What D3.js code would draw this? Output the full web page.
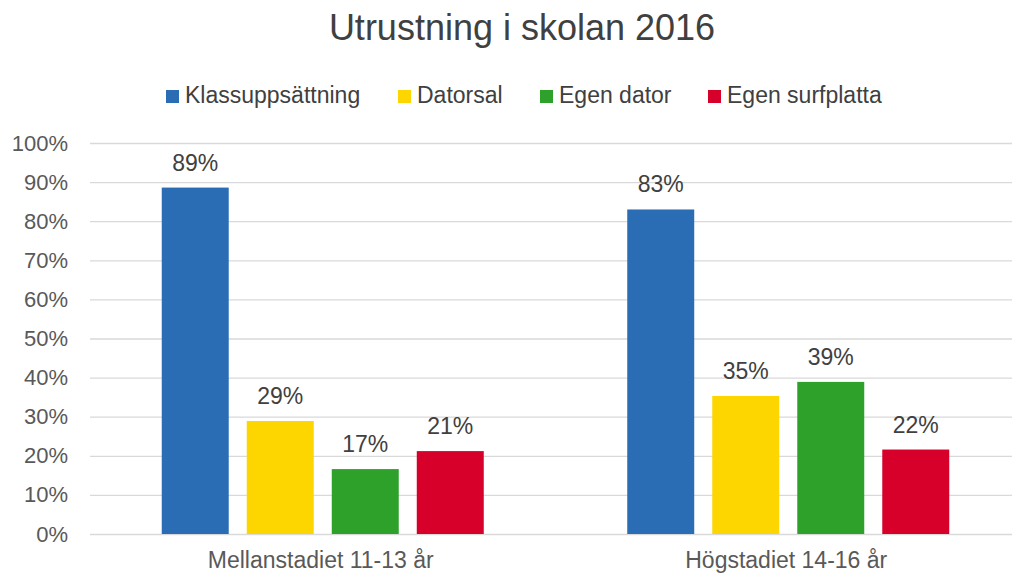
<!DOCTYPE html>
<html>
<head>
<meta charset="utf-8">
<script src="https://cdn.jsdelivr.net/npm/d3@7"></script>
<style>
  html, body { margin: 0; padding: 0; background: #fff; }
  svg text { font-family: "Liberation Sans", Arial, sans-serif; }
</style>
</head>
<body>
<div id="chart"></div>
<script>
// chart data
var categories = ['Mellanstadiet 11-13 år', 'Högstadiet 14-16 år'];
var seriesNames = ['Klassuppsättning', 'Datorsal', 'Egen dator', 'Egen surfplatta'];
var seriesColors = ['#2a6db5', '#fdd600', '#2ea12b', '#d6002a'];
var klassuppsattning = [0.886, 0.83];
var datorsal = [0.289, 0.353];
var egenDator = [0.166, 0.389];
var egenSurfplatta = [0.212, 0.216];
var yTicks = [0, 0.1, 0.2, 0.3, 0.4, 0.5, 0.6, 0.7, 0.8, 0.9, 1.0];

var allSeries = [klassuppsattning, datorsal, egenDator, egenSurfplatta];

var W = 1012, H = 573;
// plot area (note: "top" is reserved on window, so use other names)
var plotL = 90, plotR = 1021, plotT = 143, plotB = 534;

var svg = d3.select('#chart').append('svg')
    .attr('width', W)
    .attr('height', H);

// scales
var x0 = d3.scaleBand().domain(categories).range([plotL, plotR]).padding(0);
var x1 = d3.scaleBand().domain(seriesNames)
    .range([0, x0.bandwidth()])
    .paddingInner(0.212)
    .paddingOuter(0.844);
var y = d3.scaleLinear().domain([0, 1]).range([plotB, plotT]);

// title
svg.append('text')
    .attr('x', 522)
    .attr('y', 40)
    .attr('text-anchor', 'middle')
    .attr('font-size', 36)
    .attr('fill', '#404040')
    .text('Utrustning i skolan 2016');

// legend
var legendX = [166, 398, 540, 708];
var legend = svg.append('g').selectAll('g')
    .data(seriesNames)
    .enter()
    .append('g')
    .attr('transform', function(d, i) { return 'translate(' + legendX[i] + ',0)'; });
legend.append('rect')
    .attr('x', 0).attr('y', 90)
    .attr('width', 13).attr('height', 13)
    .attr('fill', function(d, i) { return seriesColors[i]; });
legend.append('text')
    .attr('x', 19).attr('y', 103)
    .attr('font-size', 23)
    .attr('fill', '#404040')
    .text(function(d) { return d; });

// gridlines + y axis
var yAxis = d3.axisLeft(y)
    .tickValues(yTicks)
    .tickSize(-(plotR - plotL))
    .tickPadding(22)
    .tickFormat(d3.format('.0%'));
var gy = svg.append('g')
    .attr('transform', 'translate(' + plotL + ',0)')
    .call(yAxis);
gy.select('.domain').remove();
gy.selectAll('.tick line').attr('stroke', '#d9d9d9').attr('stroke-width', 1.3);
gy.selectAll('.tick text')
    .attr('font-size', 22)
    .attr('fill', '#595959')
    .attr('font-family', '"Liberation Sans", Arial, sans-serif')
    .attr('dy', 7);

// bars
var groups = svg.append('g').selectAll('g')
    .data(categories)
    .enter()
    .append('g')
    .attr('transform', function(d) { return 'translate(' + x0(d) + ',0)'; });

var cells = groups.selectAll('g')
    .data(function(d, ci) {
      return seriesNames.map(function(s, si) {
        return { series: s, value: allSeries[si][ci], color: seriesColors[si] };
      });
    })
    .enter()
    .append('g');

cells.append('rect')
    .attr('x', function(d) { return x1(d.series); })
    .attr('y', function(d) { return y(d.value); })
    .attr('width', x1.bandwidth())
    .attr('height', function(d) { return y(0) - y(d.value); })
    .attr('fill', function(d) { return d.color; });

cells.append('text')
    .attr('x', function(d) { return x1(d.series) + x1.bandwidth() / 2; })
    .attr('y', function(d) { return y(d.value) - 17; })
    .attr('text-anchor', 'middle')
    .attr('font-size', 23)
    .attr('fill', '#404040')
    .text(function(d) { return Math.round(d.value * 100) + '%'; });

// category labels
svg.append('g').selectAll('text')
    .data(categories)
    .enter()
    .append('text')
    .attr('x', function(d) { return x0(d) + x0.bandwidth() / 2 - 2; })
    .attr('y', 568)
    .attr('text-anchor', 'middle')
    .attr('font-size', 23)
    .attr('fill', '#595959')
    .text(function(d) { return d; });
</script>
</body>
</html>
